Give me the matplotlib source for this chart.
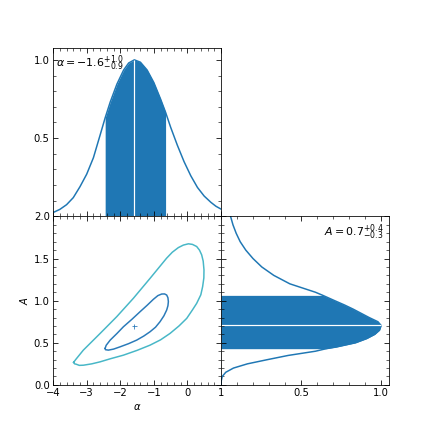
import matplotlib
matplotlib.use("Agg")
import matplotlib.pyplot as plt
from matplotlib.ticker import MultipleLocator

# marginal posterior of alpha
alpha_x = [-4.0, -3.8, -3.6, -3.4, -3.2, -3.0, -2.8, -2.6, -2.45, -2.3, -2.1, -1.9, -1.75, -1.58,
           -1.4, -1.2, -1.0, -0.8, -0.65, -0.5, -0.3, -0.1, 0.1, 0.3, 0.5, 0.7, 0.85, 1.0]
alpha_p = [0.025, 0.045, 0.075, 0.12, 0.19, 0.27, 0.375, 0.52, 0.63, 0.73, 0.845, 0.935, 0.98, 1.0,
           0.985, 0.935, 0.855, 0.75, 0.665, 0.57, 0.455, 0.35, 0.26, 0.185, 0.13, 0.09, 0.065, 0.047]
alpha_med, alpha_lo, alpha_hi = -1.58, -2.45, -0.65

# marginal posterior of A
amp_y = [0.0, 0.05, 0.1, 0.15, 0.2, 0.25, 0.3, 0.35, 0.4, 0.43, 0.45, 0.5, 0.55, 0.6, 0.65, 0.706,
         0.75, 0.8, 0.85, 0.9, 0.95, 1.0, 1.063, 1.1, 1.2, 1.3, 1.4, 1.5, 1.6, 1.7, 1.8, 1.9, 2.0]
amp_p = [0.0, 0.002, 0.008, 0.03, 0.078, 0.165, 0.29, 0.42, 0.59, 0.657, 0.72, 0.84, 0.91, 0.96,
         0.99, 1.0, 0.98, 0.925, 0.875, 0.825, 0.77, 0.71, 0.636, 0.59, 0.43, 0.33, 0.255, 0.2,
         0.155, 0.12, 0.095, 0.075, 0.06]
amp_med, amp_lo, amp_hi = 0.706, 0.43, 1.063

# 2D credible contours (alpha, A)
outer_a = [-3.39, -3.33, -3.10, -2.60, -2.105, -1.61, -1.11, -0.62, -0.45, -0.27, -0.12, 0.03, 0.15,
           0.276, 0.36, 0.425, 0.47, 0.494, 0.49, 0.454, 0.40, 0.276, 0.15, -0.02, -0.25, -0.518,
           -0.8, -1.113, -1.5, -1.907, -2.3, -2.60, -2.85, -3.097, -3.22, -3.315, -3.36, -3.39]
outer_A = [0.268, 0.30, 0.413, 0.611, 0.81, 1.028, 1.266, 1.504, 1.575, 1.63, 1.66, 1.675, 1.668,
           1.643, 1.60, 1.544, 1.47, 1.365, 1.27, 1.167, 1.07, 0.968, 0.89, 0.79, 0.70, 0.611,
           0.535, 0.472, 0.41, 0.353, 0.31, 0.274, 0.25, 0.234, 0.232, 0.246, 0.25, 0.268]
inner_a = [-2.452, -2.42, -2.30, -2.1, -1.907, -1.65, -1.41, -1.2, -1.014, -0.88, -0.766, -0.68,
           -0.617, -0.58, -0.567, -0.58, -0.617, -0.70, -0.816, -0.95, -1.113, -1.3, -1.51, -1.75,
           -2.006, -2.2, -2.353, -2.44, -2.452]
inner_A = [0.433, 0.47, 0.532, 0.61, 0.69, 0.78, 0.869, 0.945, 1.016, 1.06, 1.079, 1.08,
           1.067, 1.035, 0.988, 0.94, 0.889, 0.82, 0.75, 0.685, 0.631, 0.58, 0.532, 0.49,
           0.452, 0.425, 0.413, 0.418, 0.433]
best = (-1.58, 0.70)

blue = '#1f77b4'

fig, axes = plt.subplots(2, 2, figsize=(6, 6), dpi=72)
fig.subplots_adjust(left=0.123, right=0.9, top=0.889, bottom=0.109, wspace=0, hspace=0)
ax_a, ax_off = axes[0]
ax_2d, ax_A = axes[1]
ax_off.axis('off')


def style(ax):
    ax.tick_params(which='both', direction='in', top=True, right=True, labelsize=10)
    ax.tick_params(which='major', length=5)
    ax.tick_params(which='minor', length=3)


# top: alpha marginal
ax_a.plot(alpha_x, alpha_p, color=blue, lw=1.5)
mask = [alpha_lo <= x <= alpha_hi for x in alpha_x]
ax_a.fill_between(alpha_x, 0, alpha_p, where=mask, color=blue, lw=0)
ax_a.vlines(alpha_med, 0, 1.0, color='white', lw=1.2)
ax_a.set_xlim(-4, 1)
ax_a.set_ylim(0, 1.076)
ax_a.set_yticks([0.5, 1.0])
ax_a.yaxis.set_minor_locator(MultipleLocator(0.1))
ax_a.xaxis.set_minor_locator(MultipleLocator(0.2))
ax_a.set_xticklabels([])
ax_a.text(0.02, 0.965, r'$\alpha = -1.6^{+1.0}_{-0.9}$', transform=ax_a.transAxes,
          ha='left', va='top', fontsize=11)
style(ax_a)

# bottom left: 2D contours
ax_2d.plot(outer_a, outer_A, color='#47b7c7', lw=1.5)
ax_2d.plot(inner_a, inner_A, color='#2a7ab9', lw=1.5)
ax_2d.plot(best[0], best[1], marker='+', color='#2a7ab9', ms=5, mew=0.8)
ax_2d.set_xlim(-4, 1)
ax_2d.set_ylim(0, 2)
ax_2d.set_xticks([-4, -3, -2, -1, 0, 1])
ax_2d.set_yticks([0.0, 0.5, 1.0, 1.5, 2.0])
ax_2d.xaxis.set_minor_locator(MultipleLocator(0.2))
ax_2d.yaxis.set_minor_locator(MultipleLocator(0.1))
ax_2d.set_xlabel(r'$\alpha$', fontsize=10)
ax_2d.set_ylabel(r'$A$', fontsize=10)
style(ax_2d)

# bottom right: A marginal
ax_A.plot(amp_p, amp_y, color=blue, lw=1.5)
mask = [amp_lo <= y <= amp_hi for y in amp_y]
ax_A.fill_betweenx(amp_y, 0, amp_p, where=mask, color=blue, lw=0)
ax_A.hlines(amp_med, 0, 1.0, color='white', lw=1.2)
ax_A.set_ylim(0, 2)
ax_A.set_xlim(0, 1.048)
ax_A.set_xticks([0.5, 1.0])
ax_A.set_yticks([0.0, 0.5, 1.0, 1.5, 2.0])
ax_A.xaxis.set_minor_locator(MultipleLocator(0.1))
ax_A.yaxis.set_minor_locator(MultipleLocator(0.1))
ax_A.set_yticklabels([])
ax_A.text(0.97, 0.965, r'$A = 0.7^{+0.4}_{-0.3}$', transform=ax_A.transAxes,
          ha='right', va='top', fontsize=11)
style(ax_A)

fig.savefig('out.png', dpi=72)
